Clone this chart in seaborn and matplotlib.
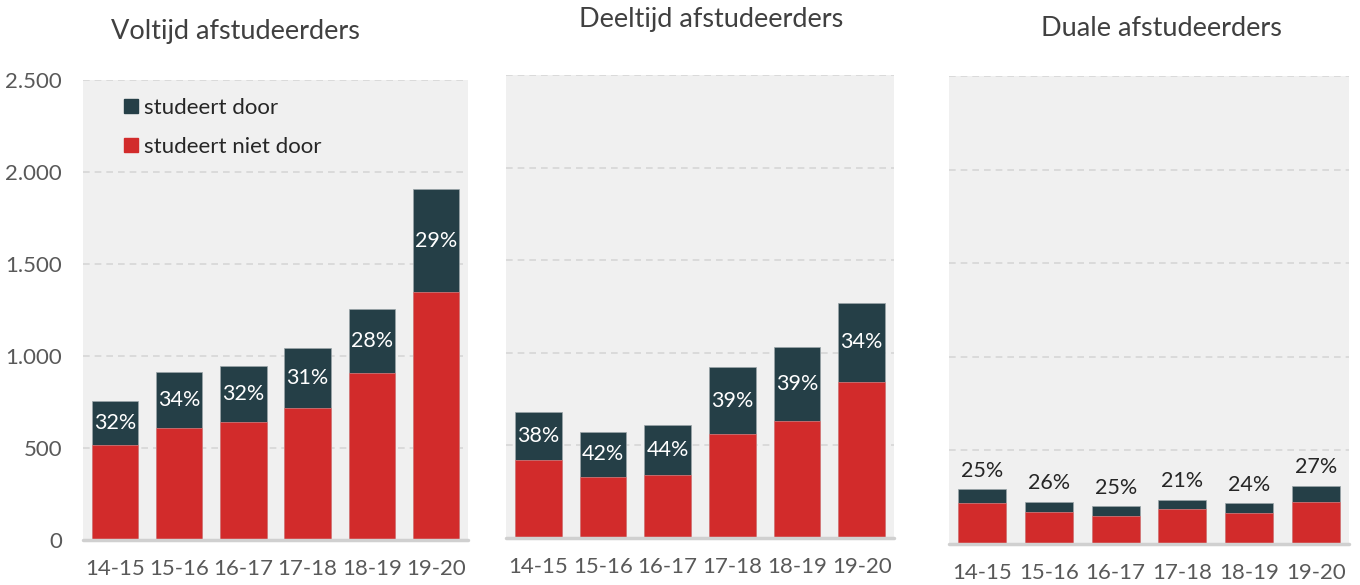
import pandas as pd
import matplotlib
import matplotlib.pyplot as plt
from matplotlib.patches import Patch
import seaborn as sns

matplotlib.use('Agg')

sns.set_style('white')
plt.rcParams['font.family'] = ['Lato', 'DejaVu Sans']

# data
years = ['14-15', '15-16', '16-17', '17-18', '18-19', '19-20']

voltijd_totaal = [756, 913, 948, 1043, 1257, 1908]
voltijd_niet = [519, 606, 642, 718, 908, 1346]
voltijd_pct = ['32%', '34%', '32%', '31%', '28%', '29%']

deeltijd_totaal = [678, 575, 610, 924, 1034, 1270]
deeltijd_niet = [419, 332, 340, 559, 630, 843]
deeltijd_pct = ['38%', '42%', '44%', '39%', '39%', '34%']

duaal_totaal = [294, 227, 201, 237, 217, 311]
duaal_niet = [219, 169, 151, 188, 165, 227]
duaal_pct = ['25%', '26%', '25%', '21%', '24%', '27%']

titles = ['Voltijd afstudeerders', 'Deeltijd afstudeerders', 'Duale afstudeerders']

RED = '#D22B2B'
DARK = '#253F47'
BG = '#F0F0F0'
GRID = '#D6D6D6'
TXT = '#595959'

fig = plt.figure(figsize=(13.6, 5.85), dpi=100)

# axes placed to follow the reference layout (pixels -> fractions)
boxes = [
    (83, 540, 385, 460),
    (506, 538, 388, 463),
    (949, 544, 400, 468),
]
title_pos = [(235, 32), (711, 20), (1161, 28)]

panels = [
    (voltijd_totaal, voltijd_niet, voltijd_pct),
    (deeltijd_totaal, deeltijd_niet, deeltijd_pct),
    (duaal_totaal, duaal_niet, duaal_pct),
]

for k, (totaal, niet, pct) in enumerate(panels):
    l, b, w, h = boxes[k]
    ax = fig.add_axes([l / 1360, (585 - b) / 585, w / 1360, h / 585])
    ax.set_facecolor(BG)

    df = pd.DataFrame({'jaar': years, 'totaal': totaal, 'niet': niet})
    sns.barplot(data=df, x='jaar', y='totaal', color=DARK, width=0.72,
                saturation=1, edgecolor='#9AA5A8', linewidth=0.5, ax=ax, zorder=3)
    sns.barplot(data=df, x='jaar', y='niet', color=RED, width=0.72,
                saturation=1, edgecolor='#E08080', linewidth=0.5, ax=ax, zorder=4)

    ax.set_ylim(0, 2500)
    ax.set_xlim(-0.5, 5.5)
    ax.set_xlabel('')
    ax.set_ylabel('')
    for s in ax.spines.values():
        s.set_visible(False)
    for yv in [500, 1000, 1500, 2000, 2500]:
        ax.axhline(yv, color=GRID, lw=1.2, ls=(0, (4, 3)), zorder=1)
    ax.axhline(0, color='#D0D0D0', lw=2.5, zorder=5, clip_on=False)

    ax.set_yticks([0, 500, 1000, 1500, 2000, 2500])
    if k == 0:
        ax.set_yticklabels([f'{v:,}'.replace(',', '.') for v in [0, 500, 1000, 1500, 2000, 2500]])
    else:
        ax.set_yticklabels([])
    ax.tick_params(axis='both', length=0, labelsize=16, colors=TXT)
    ax.tick_params(axis='y', pad=15)
    ax.tick_params(axis='x', pad=14)

    for i in range(len(years)):
        if k < 2:
            ax.text(i, (totaal[i] + niet[i]) / 2, pct[i], ha='center', va='center',
                    color='white', fontsize=15.5, zorder=6)
        else:
            ax.annotate(pct[i], (i, totaal[i]), xytext=(0, 6), textcoords='offset points',
                        ha='center', va='bottom', color='#262626', fontsize=15.5, zorder=6)

    tx, ty = title_pos[k]
    fig.text(tx / 1360, 1 - ty / 585, titles[k], ha='center', va='center',
             fontsize=19.5, color='#404040')

    if k == 0:
        handles = [Patch(color=DARK, label='studeert door'),
                   Patch(color=RED, label='studeert niet door')]
        ax.legend(handles=handles, loc='upper left', bbox_to_anchor=(0.055, 1.005),
                  frameon=False, fontsize=16, handlelength=0.6, handleheight=0.6,
                  handletextpad=0.3, labelspacing=0.85, labelcolor='#262626')

fig.savefig('out.png', dpi=100)
